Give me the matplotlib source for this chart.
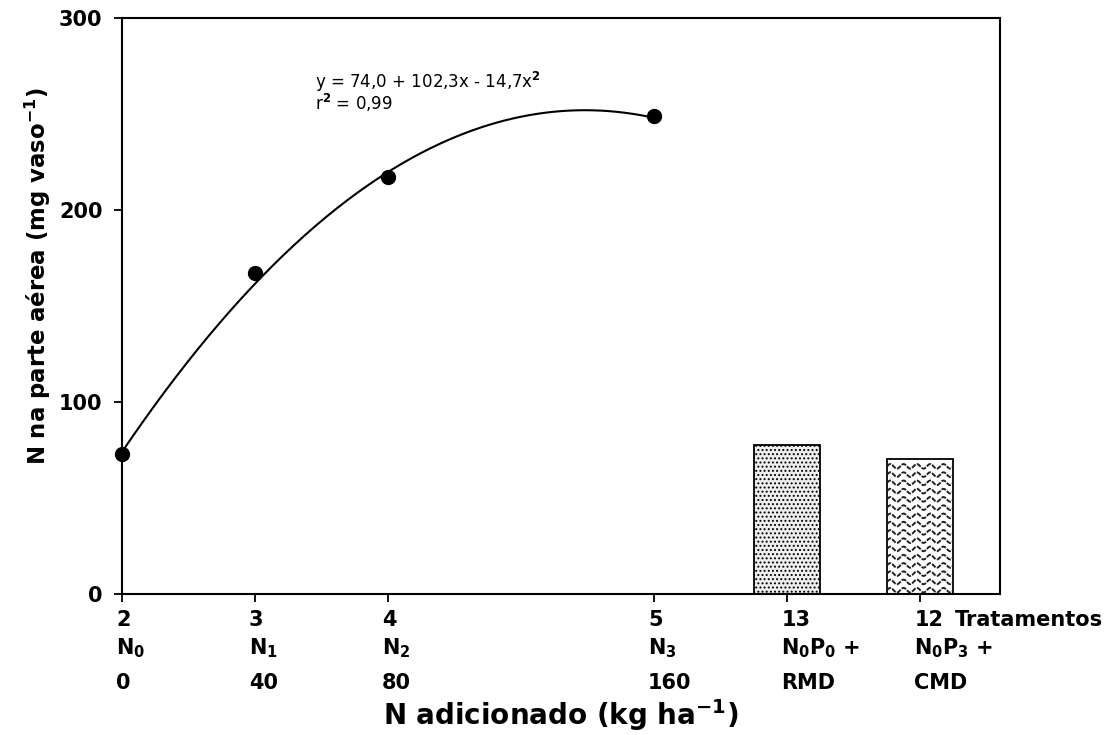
import matplotlib.pyplot as plt
import numpy as np

plt.rcParams['font.family'] = ['DejaVu Sans']
plt.rcParams['font.weight'] = 'bold'
plt.rcParams['mathtext.fontset'] = 'custom'
plt.rcParams['mathtext.rm'] = 'DejaVu Sans'
plt.rcParams['mathtext.bf'] = 'DejaVu Sans:bold'
plt.rcParams['mathtext.default'] = 'bf'
plt.rcParams['hatch.linewidth'] = 0.9
plt.rcParams['hatch.color'] = '#555555'

# doses de N (kg/ha) e N na parte aerea (mg/vaso)
dose_n = [0, 40, 80, 160]
n_parte_aerea = [73, 167, 217, 249]

# tratamentos com residuo (barras)
pos_barras = [200, 240]
n_barras = [77.5, 70.5]

# rótulos do eixo x
pos_ticks = [0, 40, 80, 160, 200, 240]
lab_trat = ['2', '3', '4', '5', '13', '12']
lab_n = ['N$_0$', 'N$_1$', 'N$_2$', 'N$_3$', 'N$_0$P$_0$ +', 'N$_0$P$_3$ +']
lab_dose = ['0', '40', '80', '160', 'RMD', 'CMD']

# equação ajustada (x = dose/40)
a, b, c = 74.0, 102.3, -14.7

fig = plt.figure(figsize=(11.15, 7.35), dpi=100)
ax = fig.add_axes([0.1094, 0.1918, 0.7875, 0.7837])

xx = np.linspace(0, 160, 200)
ax.plot(xx, a + b * (xx / 40) + c * (xx / 40) ** 2, color='black', lw=1.5)
ax.plot(dose_n, n_parte_aerea, 'o', color='black', ms=10, clip_on=False, zorder=5)

bw = 20
ax.bar(pos_barras[0], n_barras[0], width=bw, color='#eeeeee', edgecolor='black',
       hatch='....', lw=1.3)
barra2 = ax.bar(pos_barras[1], n_barras[1], width=bw, color='white', edgecolor='black',
                lw=1.3, zorder=2)[0]
# hachura ondulada
xs = np.linspace(pos_barras[1] - bw / 2, pos_barras[1] + bw / 2, 300)
for yb in np.arange(2.0, n_barras[1], 4.3):
    ln, = ax.plot(xs, yb + 1.2 * np.sin(2 * np.pi * (xs - xs[0]) / 4.0),
                  color='#222222', lw=1.4, ls=(0, (2.5, 0.7)), zorder=2.5)
    ln.set_clip_path(barra2)

ax.set_xlim(0, 264)
ax.set_ylim(0, 300)
ax.set_yticks([0, 100, 200, 300])
ax.set_xticks(pos_ticks)
ax.set_xticklabels([])
ax.tick_params(direction='out', length=6, width=1.3, labelsize=15)
ax.tick_params(axis='y', pad=8)
for s in ax.spines.values():
    s.set_linewidth(1.5)

trans = ax.get_xaxis_transform()
for x, t1, t2, t3 in zip(pos_ticks, lab_trat, lab_n, lab_dose):
    ax.text(x - 1.8, -0.0556, t1, transform=trans, fontsize=15, ha='left', va='baseline')
    ax.text(x - 1.8, -0.1042, t2, transform=trans, fontsize=15, ha='left', va='baseline')
    ax.text(x - 1.8, -0.165, t3, transform=trans, fontsize=15, ha='left', va='baseline')
ax.text(250.5, -0.0556, 'Tratamentos', transform=trans, fontsize=15, ha='left', va='baseline')

ax.set_ylabel('N na parte aérea (mg vaso$^{-1}$)', fontsize=16.4, fontweight='bold')
ax.yaxis.set_label_coords(-0.078, 0.552)
ax.text(0.5, -0.2274, 'N adicionado (kg ha$^{-1}$)', transform=ax.transAxes,
        fontsize=20, ha='center', va='baseline')

ax.text(58, 263.5, 'y = 74,0 + 102,3x - 14,7x$^\\mathrm{2}$',
        fontsize=12, fontweight='normal', va='baseline')
ax.text(58, 252.1, 'r$^\\mathrm{2}$ = 0,99',
        fontsize=12, fontweight='normal', va='baseline')

fig.savefig('out.png', dpi=100)
